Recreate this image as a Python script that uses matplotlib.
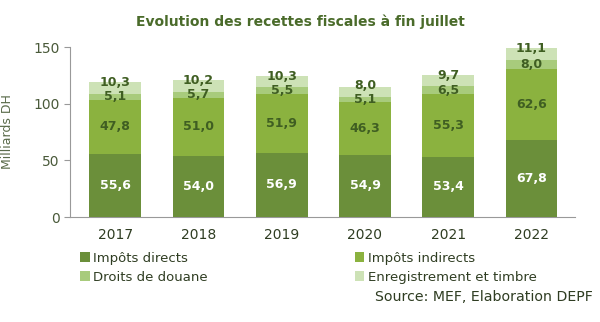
import matplotlib.pyplot as plt
import numpy as np

years = ['2017', '2018', '2019', '2020', '2021', '2022']
directs = [55.6, 54.0, 56.9, 54.9, 53.4, 67.8]
indirects = [47.8, 51.0, 51.9, 46.3, 55.3, 62.6]
douane = [5.1, 5.7, 5.5, 5.1, 6.5, 8.0]
enregistrement = [10.3, 10.2, 10.3, 8.0, 9.7, 11.1]

series = [
    ('Impôts directs', directs, '#6b8f3a', 'white'),
    ('Impôts indirects', indirects, '#8bb23f', '#3f5e22'),
    ('Droits de douane', douane, '#a8cb7c', '#3f5e22'),
    ('Enregistrement et timbre', enregistrement, '#cde2b6', '#3f5e22'),
]

fig = plt.figure(figsize=(6, 3.22), dpi=100)
ax = fig.add_axes([0.117, 0.326, 0.841, 0.528])

x = np.arange(len(years))
bottom = np.zeros(len(years))
prev_y = np.zeros(len(years))
handles = []
for i, (name, vals, color, tcolor) in enumerate(series):
    vals = np.array(vals)
    h = ax.bar(x, vals, 0.62, bottom=bottom, color=color, label=name, zorder=3)
    handles.append(h)
    for j, (xi, b, v) in enumerate(zip(x, bottom, vals)):
        if i == len(series) - 1:
            # top label hugs the top of the bar, pushed up if too close to the one below
            y = max(b + v - 1.0, prev_y[j] + 12.5)
        else:
            y = b + v / 2
        prev_y[j] = y
        ax.text(xi, y, f'{v:.1f}'.replace('.', ','), ha='center', va='center',
                fontsize=9, fontweight='bold', color=tcolor, zorder=4)
    bottom += vals

ax.set_xlim(-0.54, 5.52)
ax.set_ylim(0, 150)
ax.set_yticks([0, 50, 100, 150])
ax.set_xticks(x)
ax.set_xticklabels(years, fontsize=10, color='#2f3d22')
ax.tick_params(axis='y', labelsize=10, colors='#999999', labelcolor='#4a5a3a', length=4)
ax.tick_params(axis='x', length=0, pad=8)
for s in ['top', 'right']:
    ax.spines[s].set_visible(False)
ax.spines['left'].set_color('#999999')
ax.spines['bottom'].set_color('#999999')
ax.set_ylabel('Milliards DH', fontsize=9, color='#5a6b4a', labelpad=14)

fig.suptitle('Evolution des recettes fiscales à fin juillet', fontsize=10, fontweight='bold',
             color='#4a6b2a', y=0.955)

# row-wise order: directs, indirects / douane, enregistrement
order = [0, 2, 1, 3]
fig.legend([handles[k] for k in order], [series[k][0] for k in order],
           loc='upper left', bbox_to_anchor=(0.125, 0.235), ncol=2, frameon=False, fontsize=9.5,
           handlelength=0.7, handleheight=0.7, handletextpad=0.3, columnspacing=11.1,
           labelspacing=0.45, labelcolor='#2f3d22', borderaxespad=0)

fig.text(0.988, 0.065, 'Source: MEF, Elaboration DEPF', ha='right', fontsize=10.2, color='#2f3d22')

plt.savefig('out.png', dpi=100)
plt.close()
